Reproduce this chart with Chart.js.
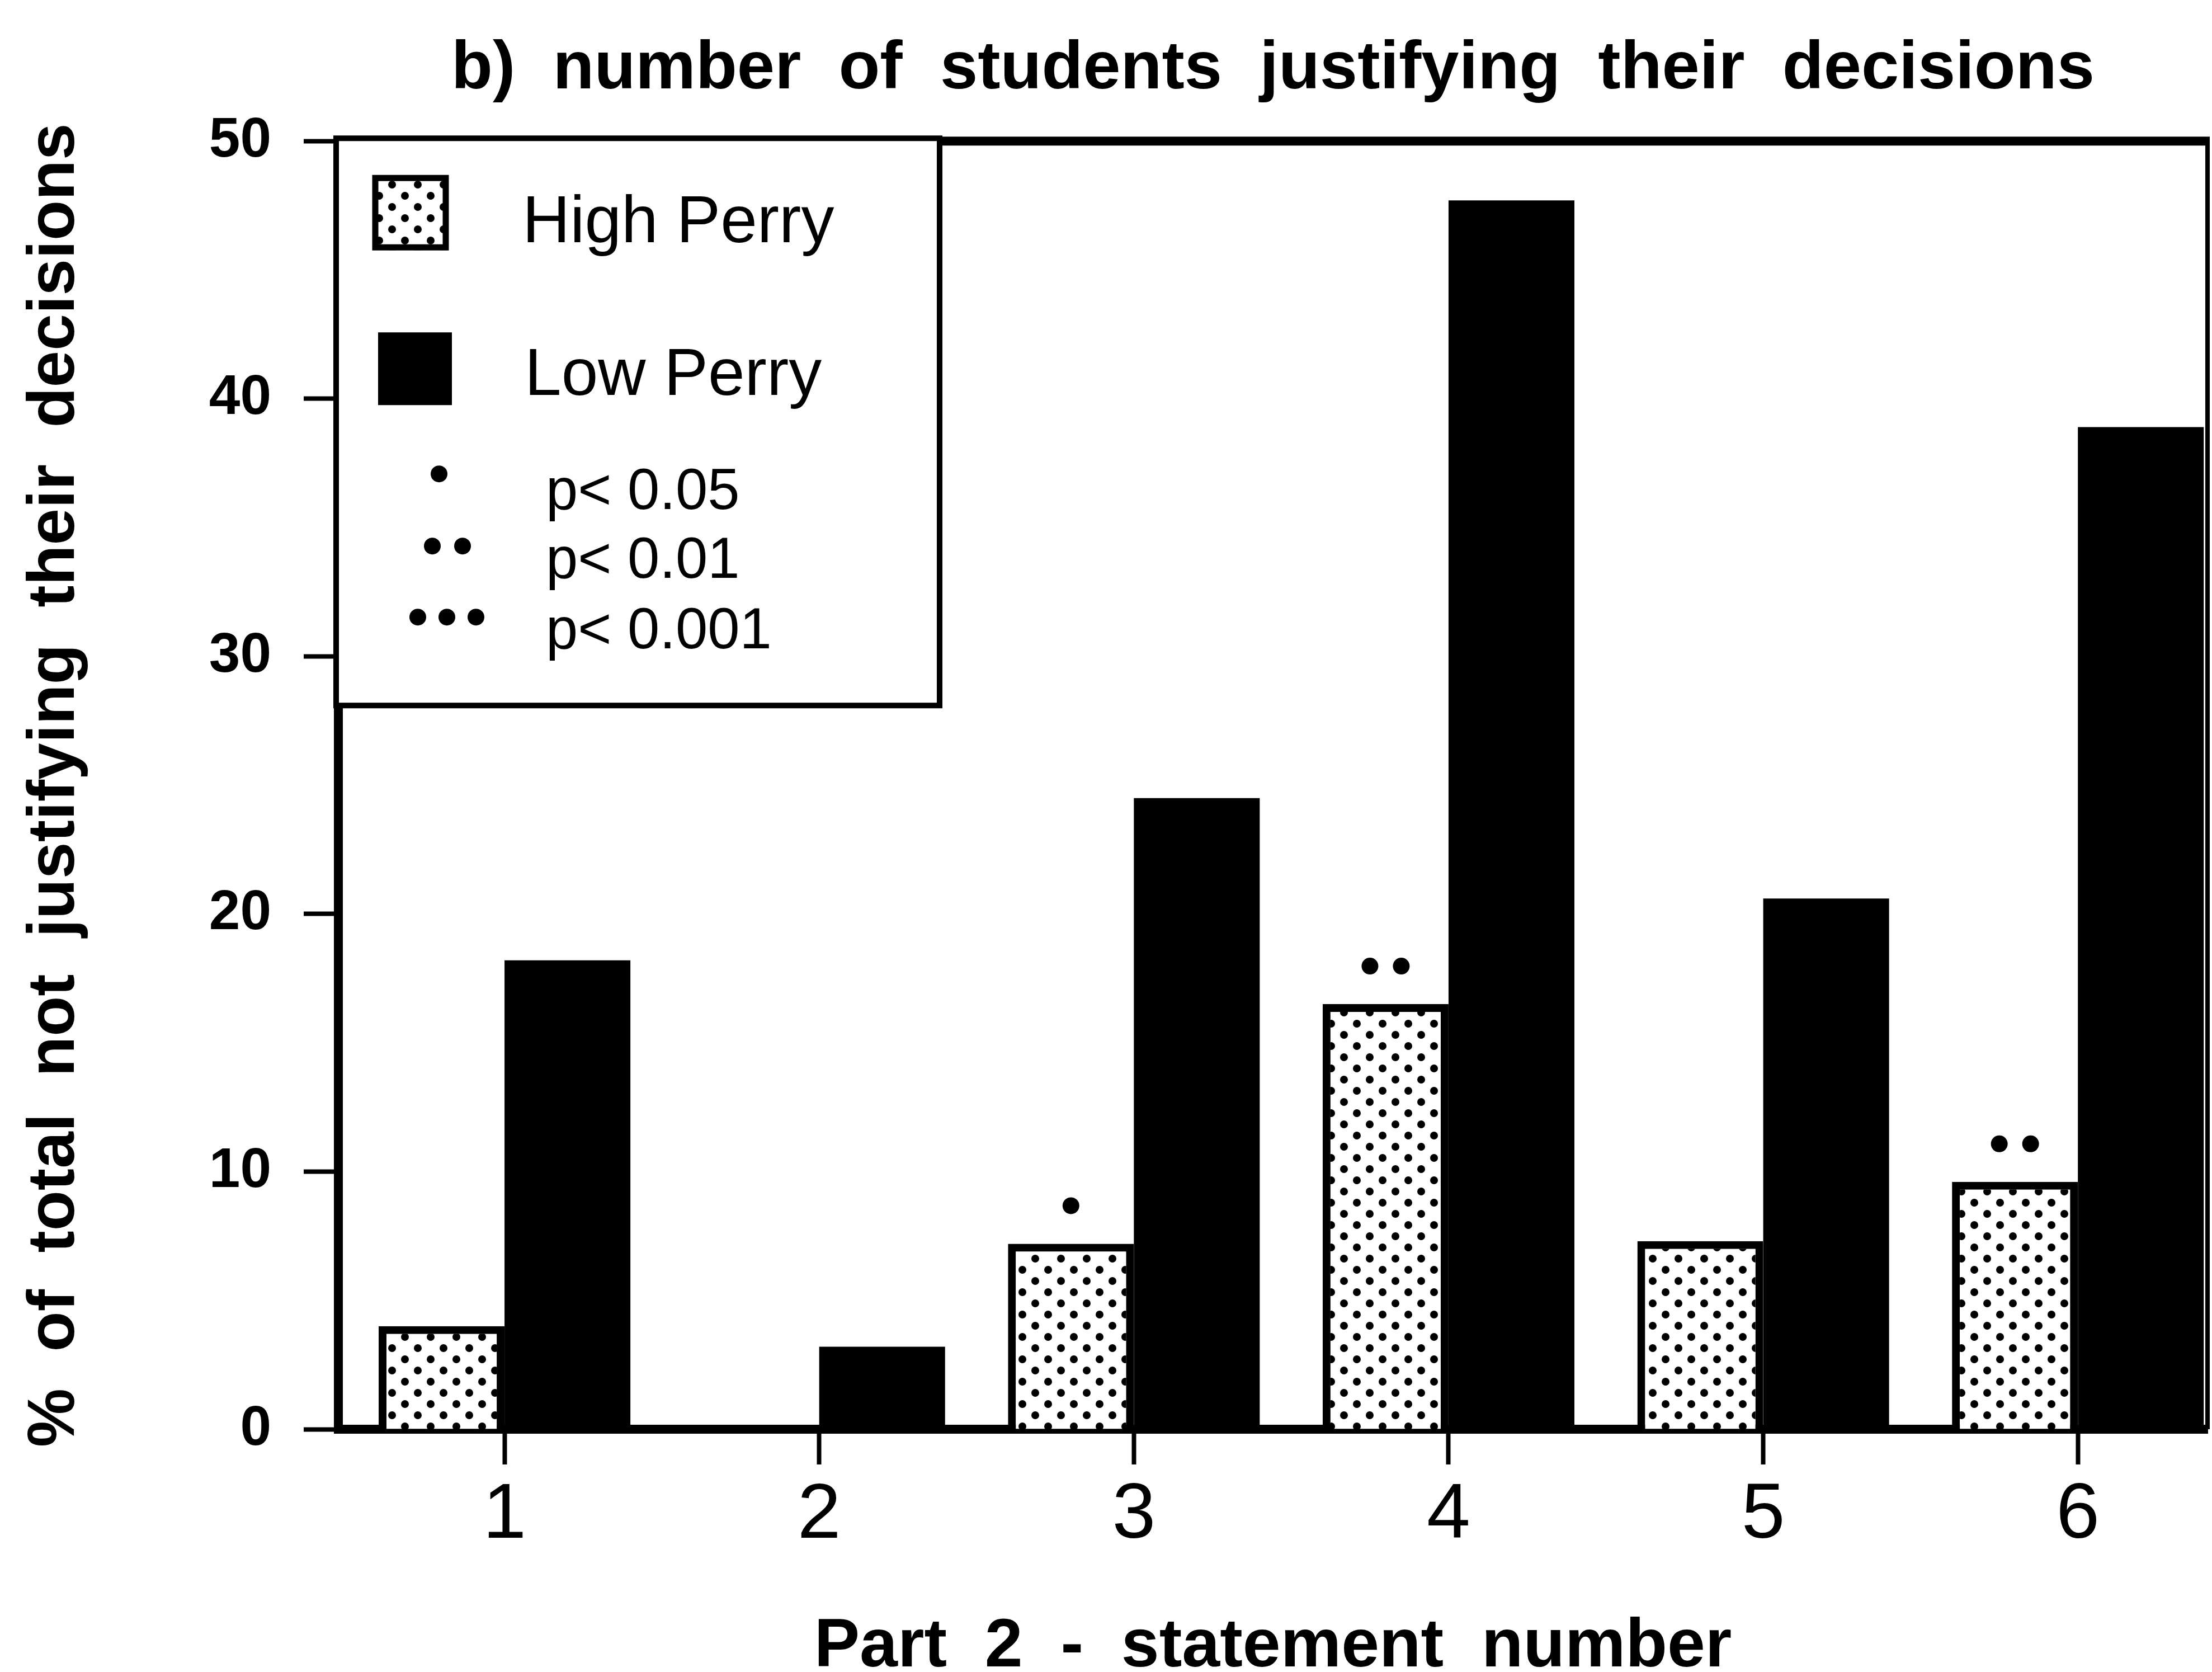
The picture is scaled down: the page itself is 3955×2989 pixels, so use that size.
<!DOCTYPE html>
<html>
<head>
<meta charset="utf-8">
<script src="https://cdn.jsdelivr.net/npm/chart.js@4/dist/chart.umd.min.js"></script>
<style>
  html, body { margin: 0; padding: 0; background: #fff; }
  #wrap { width: 3955px; height: 2989px; }
</style>
</head>
<body>
<div id="wrap"><canvas id="chart" width="3955" height="2989"></canvas></div>
<script>
// Statement numbers and their axis labels
const statements = [1, 2, 3, 4, 5, 6];
const statementLabels = ['1', '2', '3', '4', '5', '6'];
// % of each group not justifying their decisions
const highPerry = [4.0, 0, 7.2, 16.5, 7.3, 9.6];
const lowPerry = [18.2, 3.2, 24.5, 47.7, 20.6, 38.9];
// significance dots over the High Perry bar (1: p<0.05, 2: p<0.01, 3: p<0.001)
const significance = [0, 0, 1, 2, 0, 2];
const yTicks = [0, 10, 20, 30, 40, 50];
const seriesNames = ['High Perry', 'Low Perry'];
const pLabels = ['p< 0.05', 'p< 0.01', 'p< 0.001'];

const FONT = '"Liberation Sans", Arial, Helvetica, sans-serif';

// white stipple with staggered black dots
function stipple() {
  const c = document.createElement('canvas');
  c.width = 46; c.height = 40;
  const g = c.getContext('2d');
  g.fillStyle = '#fff';
  g.fillRect(0, 0, 46, 40);
  g.fillStyle = '#000';
  [[11, 10], [34, 30]].forEach(([x, y]) => {
    g.beginPath(); g.arc(x, y, 7, 0, Math.PI * 2); g.fill();
  });
  return g.createPattern(c, 'repeat');
}
const dots = stipple();

function dot(ctx, x, y, r) {
  ctx.beginPath(); ctx.arc(x, y, r, 0, Math.PI * 2); ctx.fill();
}

// top and right edges of the plot box
const frame = {
  id: 'frame',
  afterDatasetsDraw(chart) {
    const { ctx, chartArea: a } = chart;
    ctx.save();
    ctx.strokeStyle = '#000';
    ctx.lineWidth = 16;
    ctx.beginPath(); ctx.moveTo(a.left - 8, a.top); ctx.lineTo(a.right + 4, a.top); ctx.stroke();
    ctx.lineWidth = 8;
    ctx.beginPath(); ctx.moveTo(a.right, a.top); ctx.lineTo(a.right, a.bottom); ctx.stroke();
    ctx.restore();
  }
};

// significance dots above the High Perry bars
const sigDots = {
  id: 'sigDots',
  afterDatasetsDraw(chart) {
    const { ctx } = chart;
    const meta = chart.getDatasetMeta(0);
    ctx.save();
    ctx.fillStyle = '#000';
    significance.forEach((n, i) => {
      const el = meta.data[i];
      for (let k = 0; k < n; k++) {
        dot(ctx, el.x + (k - (n - 1) / 2) * 56, el.y - 68, 15);
      }
    });
    ctx.restore();
  }
};

// boxed key in the upper left of the plot
const keyBox = {
  id: 'keyBox',
  afterDraw(chart) {
    const { ctx, chartArea: a } = chart;
    const L = a.left - 4, T = a.top - 5;
    ctx.save();
    ctx.fillStyle = '#fff';
    ctx.fillRect(L, T, 1079, 1014);
    ctx.strokeStyle = '#000';
    ctx.lineWidth = 10;
    ctx.strokeRect(L, T, 1079, 1014);

    ctx.fillStyle = dots;
    ctx.fillRect(L + 65, T + 66, 136, 134);
    ctx.lineWidth = 11;
    ctx.strokeRect(L + 70, T + 71, 126, 124);
    ctx.fillStyle = '#000';
    ctx.fillRect(L + 75, T + 347, 132, 130);

    ctx.textAlign = 'left';
    ctx.textBaseline = 'alphabetic';
    ctx.font = '118px ' + FONT;
    ctx.fillText(seriesNames[0], L + 333, T + 186);
    ctx.fillText(seriesNames[1], L + 337, T + 459);

    dot(ctx, L + 184, T + 600, 15);
    dot(ctx, L + 172, T + 729, 15); dot(ctx, L + 226, T + 729, 15);
    dot(ctx, L + 146, T + 856, 15); dot(ctx, L + 198, T + 856, 15); dot(ctx, L + 250, T + 856, 15);

    ctx.font = '103px ' + FONT;
    ctx.fillText(pLabels[0], L + 375, T + 663);
    ctx.fillText(pLabels[1], L + 375, T + 786);
    ctx.fillText(pLabels[2], L + 375, T + 912);
    ctx.restore();
  }
};

new Chart(document.getElementById('chart'), {
  type: 'bar',
  data: {
    datasets: [
      {
        label: seriesNames[0],
        data: statements.map((s, i) => ({ x: s, y: highPerry[i] })),
        backgroundColor: dots,
        borderColor: '#000',
        borderWidth: 14,
        borderSkipped: 'start'
      },
      {
        label: seriesNames[1],
        data: statements.map((s, i) => ({ x: s, y: lowPerry[i] })),
        backgroundColor: '#000',
        borderWidth: 0
      }
    ]
  },
  options: {
    responsive: false,
    devicePixelRatio: 1,
    animation: false,
    events: [],
    categoryPercentage: 0.8,
    barPercentage: 1.0,
    layout: { padding: { left: 0, right: 8, top: 0, bottom: 0 } },
    plugins: {
      legend: { display: false },
      tooltip: { enabled: false },
      title: {
        display: true,
        fullSize: false,
        text: 'b)  number  of  students  justifying  their  decisions',
        color: '#000',
        font: { family: FONT, size: 121, weight: 'bold' },
        padding: { top: 52, bottom: 55 }
      }
    },
    scales: {
      x: {
        type: 'linear',
        min: 0.472,
        max: 6.412,
        offset: false,
        z: 1,
        afterBuildTicks: s => { s.ticks = statements.map(v => ({ value: v })); },
        afterFit: s => { s.height = 434; },
        border: { display: true, width: 16, color: '#000' },
        grid: { offset: false, drawOnChartArea: false, drawTicks: true, tickLength: 63, tickWidth: 8, tickColor: '#000', color: '#000' },
        ticks: {
          color: '#000',
          font: { family: FONT, size: 140 },
          padding: 8,
          maxRotation: 0,
          autoSkip: false,
          callback: (v, i) => statementLabels[i]
        },
        title: {
          display: true,
          text: 'Part  2  -  statement  number',
          color: '#000',
          font: { family: FONT, size: 122, weight: 'bold', lineHeight: 0.72 },
          padding: { top: 0, bottom: 0 }
        }
      },
      y: {
        min: 0,
        max: 50,
        z: 1,
        afterBuildTicks: s => { s.ticks = yTicks.map(v => ({ value: v })); },
        afterFit: s => { s.width = 605; },
        border: { display: true, width: 16, color: '#000' },
        grid: { drawOnChartArea: false, drawTicks: true, tickLength: 62, tickWidth: 8, tickColor: '#000', color: '#000' },
        ticks: {
          color: '#000',
          font: { family: FONT, size: 100, weight: 'bold' },
          padding: 58
        },
        title: {
          display: true,
          text: '%  of  total  not  justifying  their  decisions',
          color: '#000',
          font: { family: FONT, size: 118, weight: 'bold' },
          padding: { top: 29, bottom: 0 }
        }
      }
    }
  },
  plugins: [frame, sigDots, keyBox]
});
</script>
</body>
</html>
